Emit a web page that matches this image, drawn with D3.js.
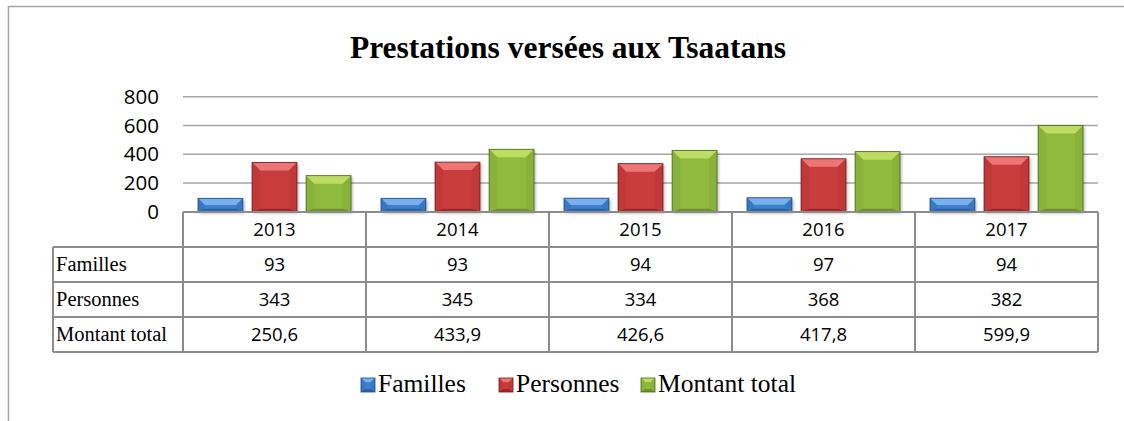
<!DOCTYPE html>
<html>
<head>
<meta charset="utf-8">
<script src="https://cdn.jsdelivr.net/npm/d3@7"></script>
<style>
  body { margin: 0; background: #fff; }
</style>
</head>
<body>
<script>
const years = ["2013", "2014", "2015", "2016", "2017"];
const seriesNames = ["Familles", "Personnes", "Montant total"];
const familles = [93, 93, 94, 97, 94];
const personnes = [343, 345, 334, 368, 382];
const montant = [250.6, 433.9, 426.6, 417.8, 599.9];
const yTicks = [0, 200, 400, 600, 800];

function main(){
    const width = 1124;
    const height = 421;

    const svg = d3.select("body").append("svg")
        .attr("width", width)
        .attr("height", height)

    // colours per series: base, light top, dark edge
    const colors = {
        "Familles": {base: "#3f7fce", top: "#78b0ee", side: "#3877c4", bottom: "#2e63a6", edge: "#1f4a80"},
        "Personnes": {base: "#c93c3c", top: "#ec7575", side: "#c03838", bottom: "#9c2a2a", edge: "#6e1c1c"},
        "Montant total": {base: "#8fba3d", top: "#bddd62", side: "#88b23a", bottom: "#6c922c", edge: "#4a661c"}
    };

    const values = {"Familles": familles, "Personnes": personnes, "Montant total": montant};

    const defs = svg.append("defs");
    defs.append("filter").attr("id", "shadow")
        .attr("x", "-20%").attr("y", "-20%").attr("width", "150%").attr("height", "150%")
        .append("feDropShadow")
        .attr("dx", 1.5).attr("dy", 1.5).attr("stdDeviation", 1.5)
        .attr("flood-color", "#000").attr("flood-opacity", 0.3);

    // outer frame (left and top only visible)
    svg.append("path")
        .attr("d", "M8.5,421 L8.5,6.5 L1124,6.5")
        .attr("fill", "none")
        .attr("stroke", "#a6a6a6")
        .attr("stroke-width", 1.5);

    //title
    svg.append("text")
        .attr("x", 568)
        .attr("y", 58)
        .attr("text-anchor", "middle")
        .attr("font-family", "'Liberation Serif', 'Times New Roman', serif")
        .attr("font-weight", "bold")
        .attr("font-size", "31.5px")
        .text("Prestations versées aux Tsaatans");

    const plotLeft = 183, plotRight = 1098;
    const xScale = d3.scaleBand().domain(years).range([plotLeft, plotRight]);
    const innerScale = d3.scaleBand().domain(seriesNames).range([15, 168]).paddingInner(0.17);
    const yScale = d3.scaleLinear().domain([0, 800]).range([211.7, 96.7]);

    // gridlines
    svg.append("g").selectAll("line")
        .data(yTicks.filter(d => d > 0))
        .enter().append("line")
        .attr("x1", plotLeft)
        .attr("x2", plotRight)
        .attr("y1", d => yScale(d))
        .attr("y2", d => yScale(d))
        .attr("stroke", "#a6a6a6")
        .attr("stroke-width", 1.5);

    // y axis labels
    const yAxis = svg.append("g")
        .attr("transform", "translate(" + 168 + ",0)")
        .call(d3.axisLeft(yScale).tickValues(yTicks).tickSize(0).tickPadding(9));
    yAxis.select(".domain").remove();
    yAxis.selectAll("text")
        .attr("font-family", "'Open Sans', 'Noto Sans', sans-serif")
        .attr("font-size", "20.5px")
        .attr("fill", "#000");

    // bevelled bar
    function bevelBar(g, x, y, w, h, c, bmax){
        const b = Math.min(bmax, h / 2, w / 2);
        const bb = Math.min(3, h / 3);
        g.append("rect").attr("x", x).attr("y", y).attr("width", w).attr("height", h)
            .attr("fill", c.base).attr("filter", "url(#shadow)");
        g.append("polygon")
            .attr("points", [[x, y], [x + w, y], [x + w - b, y + b], [x + b, y + b]].join(" "))
            .attr("fill", c.top);
        g.append("polygon")
            .attr("points", [[x, y], [x + b, y + b], [x + b, y + h - bb], [x, y + h]].join(" "))
            .attr("fill", c.side);
        g.append("polygon")
            .attr("points", [[x + w, y], [x + w - b, y + b], [x + w - b, y + h - bb], [x + w, y + h]].join(" "))
            .attr("fill", c.side);
        g.append("polygon")
            .attr("points", [[x, y + h], [x + b, y + h - bb], [x + w - b, y + h - bb], [x + w, y + h]].join(" "))
            .attr("fill", c.bottom);
        g.append("rect").attr("x", x).attr("y", y).attr("width", w).attr("height", h)
            .attr("fill", "none").attr("stroke", c.edge).attr("stroke-width", 0.8);
    }

    const bars = svg.append("g");
    years.forEach((yr, i) => {
        seriesNames.forEach(s => {
            const v = values[s][i];
            const x = xScale(yr) + innerScale(s);
            const y = yScale(v);
            const h = yScale(0) - y;
            bevelBar(bars.append("g"), x, y, innerScale.bandwidth(), h, colors[s], 8);
        });
    });

    // data table
    const fmt = d3.formatLocale({decimal: ",", thousands: " ", grouping: [3], currency: ["", ""]});
    const fmtVal = v => Number.isInteger(v) ? String(v) : fmt.format(".1f")(v);

    const headerTop = 212, rowH = 35, labelLeft = 53;
    const rowTop = i => headerTop + rowH * (i + 1);
    const tableEnd = rowTop(seriesNames.length);
    const table = svg.append("g")
        .attr("fill", "none")
        .attr("stroke", "#8c8c8c")
        .attr("stroke-width", 2);

    // horizontal lines
    table.append("line").attr("x1", plotLeft).attr("x2", plotRight).attr("y1", headerTop).attr("y2", headerTop);
    seriesNames.forEach((s, i) => {
        table.append("line").attr("x1", labelLeft).attr("x2", plotRight).attr("y1", rowTop(i)).attr("y2", rowTop(i));
    });
    table.append("line").attr("x1", labelLeft).attr("x2", plotRight).attr("y1", tableEnd).attr("y2", tableEnd);
    // vertical lines
    table.append("line").attr("x1", labelLeft).attr("x2", labelLeft).attr("y1", rowTop(0)).attr("y2", tableEnd);
    years.concat(["end"]).forEach((yr, i) => {
        const x = i < years.length ? xScale(yr) : plotRight;
        table.append("line").attr("x1", x).attr("x2", x).attr("y1", headerTop).attr("y2", tableEnd);
    });

    // year headers
    svg.append("g").selectAll("text")
        .data(years)
        .enter().append("text")
        .attr("x", d => xScale(d) + xScale.bandwidth() / 2)
        .attr("y", headerTop + rowH / 2)
        .attr("dy", "0.36em")
        .attr("text-anchor", "middle")
        .attr("font-family", "'Open Sans', 'Noto Sans', sans-serif")
        .attr("font-size", "18.5px")
        .text(d => d);

    // row labels and values
    seriesNames.forEach((s, i) => {
        svg.append("text")
            .attr("x", labelLeft + 3)
            .attr("y", rowTop(i) + rowH / 2)
            .attr("dy", "0.32em")
            .attr("font-family", "'Liberation Serif', 'Times New Roman', serif")
            .attr("font-size", "20.5px")
            .text(s);
        svg.append("g").selectAll("text")
            .data(values[s])
            .enter().append("text")
            .attr("x", (d, j) => xScale(years[j]) + xScale.bandwidth() / 2)
            .attr("y", rowTop(i) + rowH / 2)
            .attr("dy", "0.36em")
            .attr("text-anchor", "middle")
            .attr("font-family", "'Open Sans', 'Noto Sans', sans-serif")
            .attr("font-size", "18.5px")
            .text(d => fmtVal(d));
    });

    // legend
    const legendX = [361, 499, 641];
    const legend = svg.append("g");
    seriesNames.forEach((s, i) => {
        const g = legend.append("g");
        bevelBar(g, legendX[i], 378, 14, 14, colors[s], 4);
        g.select("rect").attr("filter", null);
        g.append("text")
            .attr("x", legendX[i] + 17)
            .attr("y", 392)
            .attr("font-family", "'Liberation Serif', 'Times New Roman', serif")
            .attr("font-size", "25.5px")
            .text(s);
    });
}
main();
</script>
</body>
</html>
